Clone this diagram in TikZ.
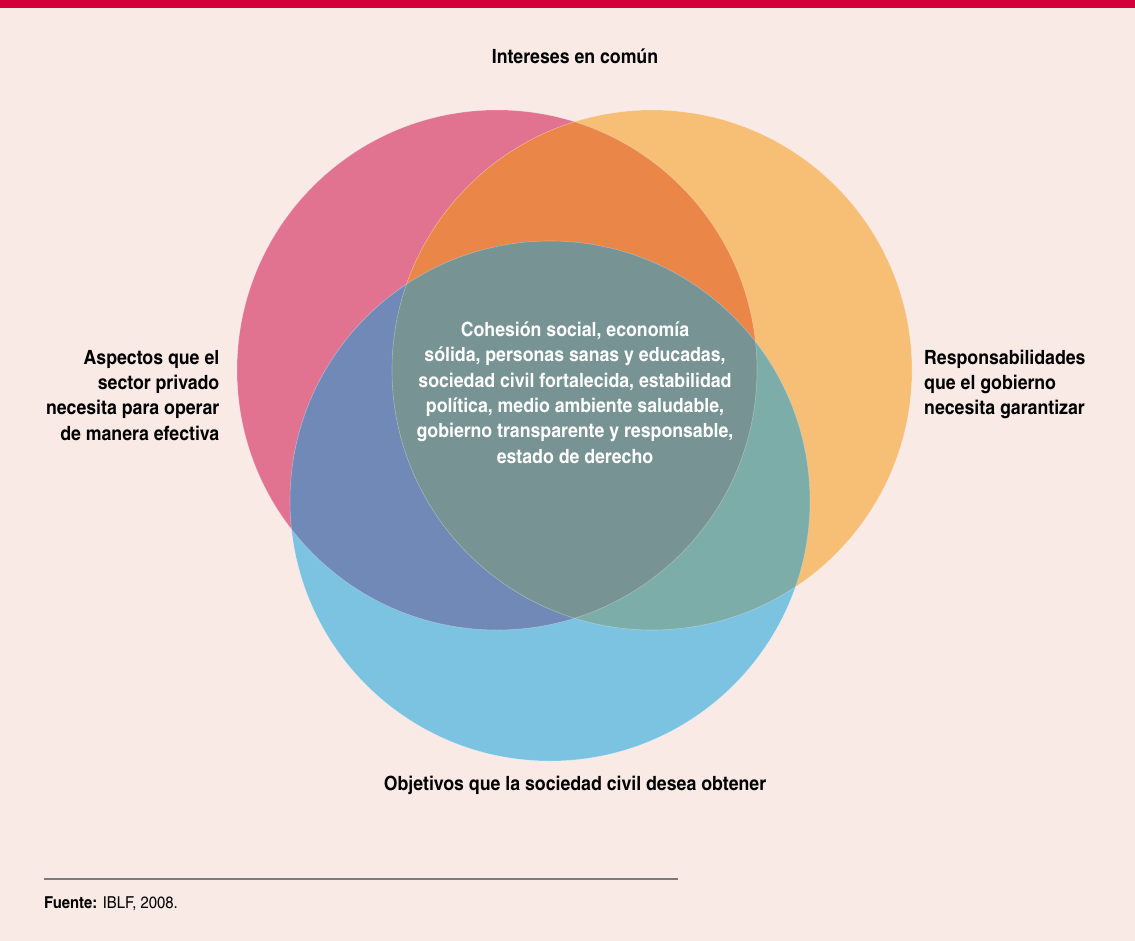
\documentclass[tikz,border=0pt]{standalone}
\usepackage{fontspec}
\setmainfont{texgyreheroscn}[
  Extension=.otf,
  UprightFont=*-regular,
  BoldFont=*-bold,
  ItalicFont=*-italic,
  BoldItalicFont=*-bolditalic,
  FakeStretch=1.1]

\definecolor{bgpink}{HTML}{F9EAE6}
\definecolor{barred}{HTML}{D30039}
\definecolor{privpink}{HTML}{E27390}
\definecolor{govorange}{HTML}{F6BF75}
\definecolor{civblue}{HTML}{7CC3E1}
\definecolor{privgov}{HTML}{EB8649}
\definecolor{privciv}{HTML}{7189B7}
\definecolor{govciv}{HTML}{7DADA9}
\definecolor{common}{HTML}{779393}
\definecolor{rulegray}{HTML}{7A7A7A}

\tikzset{
  label text/.style={inner sep=0pt, anchor=base, font=\fontsize{19.7}{25.4}\selectfont\bfseries},
  center text/.style={label text, text=white, align=center},
  rim/.style={draw=white, draw opacity=0.3, line width=0.6bp}
}
\newcommand{\rad}{260}

\begin{document}
\begin{tikzpicture}[x=1bp,y=-1bp]
%%
  % background and top bar
  \fill[bgpink] (0,0) rectangle (1135,941);
  \fill[barred] (0,0) rectangle (1135,8);
  \useasboundingbox (0,0) rectangle (1135,941);
  % circle centres
  \coordinate (Priv) at (497,370);
  \coordinate (Gov) at (652,370);
  \coordinate (Civ) at (550,501);
  % Circles
  \fill[privpink] (Priv) circle (\rad);
  \fill[govorange] (Gov) circle (\rad);
  \fill[civblue] (Civ) circle (\rad);
  % Overlaps
\begin{scope}
  \clip (Priv) circle (\rad);
  \fill[privgov] (Gov) circle (\rad);
  \fill[privciv] (Civ) circle (\rad);
\end{scope}
\begin{scope}
  \clip (Gov) circle (\rad);
  \fill[govciv] (Civ) circle (\rad);
  \clip (Civ) circle (\rad);
  \fill[common] (Priv) circle (\rad);
\end{scope}
  % rims
  \draw[rim] (Priv) circle (\rad);
  \draw[rim] (Gov) circle (\rad);
  \draw[rim] (Civ) circle (\rad);
%%
  % Labels (multi-line nodes sit on their last baseline)
  \node[label text] (Top) at (575,63.3) {Intereses en común};
  \node[label text, align=right, anchor=base east] (Left) at (219.5,440)
    {Aspectos que el\\ sector privado\\ necesita para operar\\ de manera efectiva};
  \node[label text, align=left, anchor=base west] (Right) at (924,414.8)
    {Responsabilidades\\ que el gobierno\\ necesita garantizar};
  \node[label text] (Bottom) at (575,790.7) {Objetivos que la sociedad civil desea obtener};
  \node[center text] (Common) at (575,463)
    {Cohesión social, economía\\ sólida, personas sanas y educadas,\\ sociedad civil fortalecida, estabilidad\\
     política, medio ambiente saludable,\\ gobierno transparente y responsable,\\ estado de derecho};
  % Footer
  \coordinate (RuleL) at (44,879);
  \coordinate (RuleR) at (678,879);
  \draw[rulegray, line width=2bp] (RuleL) -- (RuleR);
  \node[inner sep=0pt, anchor=base west, font=\fontsize{16.5}{18}\selectfont] (Source) at (44,908)
    {\textbf{Fuente:} IBLF, 2008.};
%
\end{tikzpicture}
\end{document}
